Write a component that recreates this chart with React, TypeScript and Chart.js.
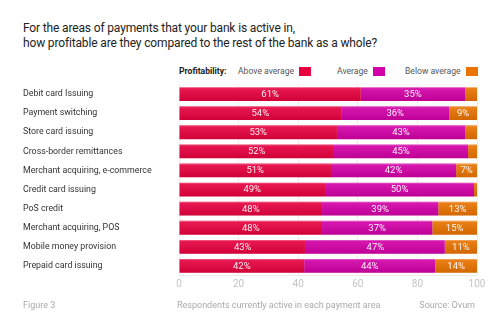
import React, { useEffect, useRef } from "react";
import { Chart, registerables } from "chart.js";

Chart.register(...registerables);

const categories = [
  "Debit card Issuing",
  "Payment switching",
  "Store card issuing",
  "Cross-border remittances",
  "Merchant acquiring, e-commerce",
  "Credit card issuing",
  "PoS credit",
  "Merchant acquiring, POS",
  "Mobile money provision",
  "Prepaid card issuing",
];
const aboveAverage = [61, 54.4, 53, 52, 51, 49, 48, 48, 42.6, 42];
const average = [35, 36.3, 43, 45, 42, 50, 39, 37, 46.6, 44];
const belowAverage = [4, 9.3, 4, 3, 7, 1, 13, 15, 10.8, 14];
const xTicks = [0, 20, 40, 60, 80, 100];

const seriesNames = ["Above average", "Average", "Below average"];
const seriesColors = ["#e8003f", "#d400a8", "#ea7300"];

const FONT = "Roboto, 'Liberation Sans', sans-serif";

const labelPlugin = {
  id: "segLabels",
  afterDatasetsDraw(chart: any) {
    const ctx = chart.ctx;
    ctx.save();
    chart.data.datasets.forEach((ds: any, di: number) => {
      const meta = chart.getDatasetMeta(di);
      meta.data.forEach((bar: any) => {
        const left = Math.min(bar.x, bar.base);
        const right = Math.max(bar.x, bar.base);
        const top = bar.y - bar.height / 2;
        const g = ctx.createLinearGradient(0, top, 0, top + bar.height);
        g.addColorStop(0, "rgba(255,255,255,0.10)");
        g.addColorStop(1, "rgba(0,0,0,0.10)");
        ctx.fillStyle = g;
        ctx.fillRect(left, top, right - left, bar.height);
        ctx.fillStyle = "rgba(255,255,255,0.25)";
        ctx.fillRect(left, top, right - left, 1);
      });
    });
    chart.data.datasets.forEach((ds: any, di: number) => {
      const meta = chart.getDatasetMeta(di);
      meta.data.forEach((bar: any, i: number) => {
        const v = ds.data[i];
        if (v < 6) return;
        const cx = (bar.x + bar.base) / 2;
        ctx.fillStyle = "rgba(255,255,255,0.92)";
        ctx.font = `9.5px ${FONT}`;
        ctx.textAlign = "center";
        ctx.textBaseline = "middle";
        ctx.fillText(Math.round(v) + "%", cx, bar.y + 0.5);
      });
    });
    ctx.restore();
  },
};

export default function App() {
  const ref = useRef<HTMLCanvasElement>(null);
  useEffect(() => {
    document.body.style.margin = "0";
    const chart = new Chart(ref.current!, {
      type: "bar",
      data: {
        labels: categories,
        datasets: [aboveAverage, average, belowAverage].map((d, k) => ({
          label: seriesNames[k],
          data: d,
          backgroundColor: seriesColors[k],
          borderWidth: 0,
          barPercentage: 0.72,
          categoryPercentage: 1,
        })),
      },
      options: {
        indexAxis: "y",
        animation: false,
        responsive: false,
        maintainAspectRatio: false,
        layout: { padding: { left: 23, right: 23, top: 84.5, bottom: 34.5 } },
        plugins: {
          legend: { display: false },
          tooltip: { enabled: false },
          title: { display: false },
        },
        scales: {
          x: {
            stacked: true,
            min: 0,
            max: 100,
            afterBuildTicks: (s: any) => {
              s.ticks = xTicks.map((v) => ({ value: v }));
            },
            afterFit: (s: any) => {
              s.height = 20;
            },
            ticks: {
              color: "#c4c4c4",
              font: { family: FONT, size: 10 },
              padding: 3,
            },
            grid: { color: "#ececec", drawTicks: false },
            border: { display: true, color: "#ececec" },
          },
          y: {
            stacked: true,
            afterFit: (s: any) => {
              s.width = 156;
            },
            ticks: {
              crossAlign: "far",
              color: "#333",
              font: { family: FONT, size: 8.8 },
              padding: 0,
            },
            grid: { display: false },
            border: { display: false },
          },
        },
      },
      plugins: [labelPlugin],
    });
    return () => chart.destroy();
  }, []);

  const legendItem = (name: string, color: string, x: number) => (
    <div
      style={{
        position: "absolute",
        left: x,
        top: 66,
        display: "flex",
        alignItems: "center",
        fontSize: 8.6,
        color: "#555",
        whiteSpace: "nowrap",
        lineHeight: "11px",
      }}
    >
      <span>{name}</span>
      <span
        style={{
          display: "inline-block",
          width: 12,
          height: 9,
          background: color,
          marginLeft: 5,
        }}
      />
    </div>
  );

  const footStyle: React.CSSProperties = {
    position: "absolute",
    top: 300,
    fontSize: 9,
    color: "#aaa",
    whiteSpace: "nowrap",
  };

  return (
    <div
      style={{
        position: "relative",
        width: 500,
        height: 330,
        background: "#fff",
        fontFamily: FONT,
        overflow: "hidden",
      }}
    >
      <div
        style={{
          position: "absolute",
          left: 23,
          top: 21,
          fontSize: 12,
          letterSpacing: "-0.15px",
          lineHeight: "15px",
          color: "#222",
          whiteSpace: "nowrap",
        }}
      >
        For the areas of payments that your bank is active in,
        <br />
        how profitable are they compared to the rest of the bank as a whole?
      </div>
      <div
        style={{
          position: "absolute",
          left: 179,
          top: 66,
          fontSize: 8.6,
          fontWeight: 700,
          color: "#222",
          lineHeight: "11px",
        }}
      >
        Profitability:
      </div>
      {legendItem(seriesNames[0], seriesColors[0], 238)}
      {legendItem(seriesNames[1], seriesColors[1], 337)}
      {legendItem(seriesNames[2], seriesColors[2], 405)}
      <canvas
        ref={ref}
        width={500}
        height={330}
        style={{ position: "absolute", left: 0, top: 0 }}
      />
      <div style={{ ...footStyle, left: 23 }}>Figure 3</div>
      <div style={{ ...footStyle, left: 177 }}>
        Respondents currently active in each payment area
      </div>
      <div style={{ ...footStyle, right: 25 }}>Source: Ovum</div>
    </div>
  );
}
